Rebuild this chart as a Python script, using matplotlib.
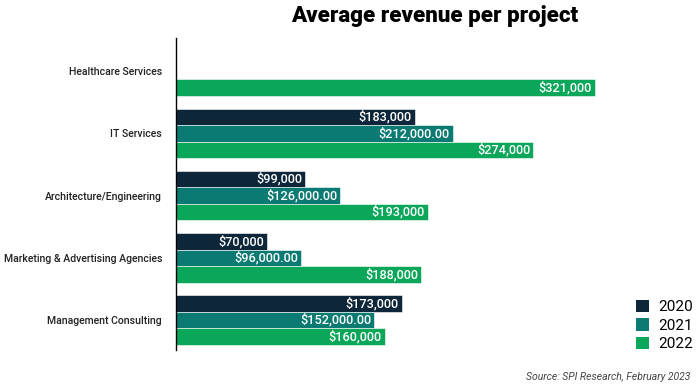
import numpy as np
import matplotlib
matplotlib.use("Agg")
from matplotlib import pyplot as plt
from matplotlib.patches import Patch

plt.rcParams['font.family'] = ['Roboto', 'DejaVu Sans']

categories = ["Healthcare Services", "IT Services", "Architecture/Engineering",
              "Marketing & Advertising Agencies", "Management Consulting"]
years = ["2020", "2021", "2022"]
rev_2020 = [np.nan, 183000, 99000, 70000, 173000]
rev_2021 = [np.nan, 212000, 126000, 96000, 152000]
rev_2022 = [321000, 274000, 193000, 188000, 160000]
label_fmt = ["${:,.0f}", "${:,.2f}", "${:,.0f}"]
colors = ["#0d2639", "#0a7a72", "#0aa65a"]

fig = plt.figure(figsize=(7, 3.88), dpi=100)
ax = fig.add_axes([176 / 700, 1 - 350 / 388, 424 / 700, 312 / 388])

y = np.arange(len(categories))
h = 0.265
series = [rev_2020, rev_2021, rev_2022]
for k, vals in enumerate(series):
    pos = y + (k - 1) * h
    ax.barh(pos, np.nan_to_num(vals), height=h, color=colors[k],
            edgecolor="white", linewidth=0.4, label=years[k])
    for p, v in zip(pos, vals):
        if np.isnan(v):
            continue
        ax.text(v - 2500, p, label_fmt[k].format(v), ha="right", va="center",
                color="white", fontsize=9.2, fontweight="medium")

ax.set_xlim(0, 325000)
ax.set_ylim(4.48, -0.53)
ax.set_yticks(y)
ax.set_yticklabels(categories, fontsize=7.6, color="#222222", fontweight="medium")
ax.tick_params(axis="y", length=0, pad=10)
ax.set_xticks([])
for s in ["top", "right", "bottom"]:
    ax.spines[s].set_visible(False)
ax.spines["left"].set_color("black")
ax.spines["left"].set_linewidth(1)

fig.text(435 / 700, 1 - 16 / 388, "Average revenue per project", ha="center",
         va="center", fontsize=16, fontweight="black", color="black")

handles = [Patch(facecolor=c, label=yr) for c, yr in zip(colors, years)]
fig.legend(handles=handles, loc="upper left", bbox_to_anchor=(628 / 700, 1 - 292 / 388),
           frameon=False, fontsize=11, handlelength=0.9, handleheight=0.9,
           handletextpad=0.6, labelspacing=0.25, borderpad=0)

fig.text(690 / 700, 1 - 377 / 388, "Source: SPI Research, February 2023", ha="right",
         va="center", fontsize=7.5, style="italic", color="#444444")

fig.savefig("out.png", dpi=100)
